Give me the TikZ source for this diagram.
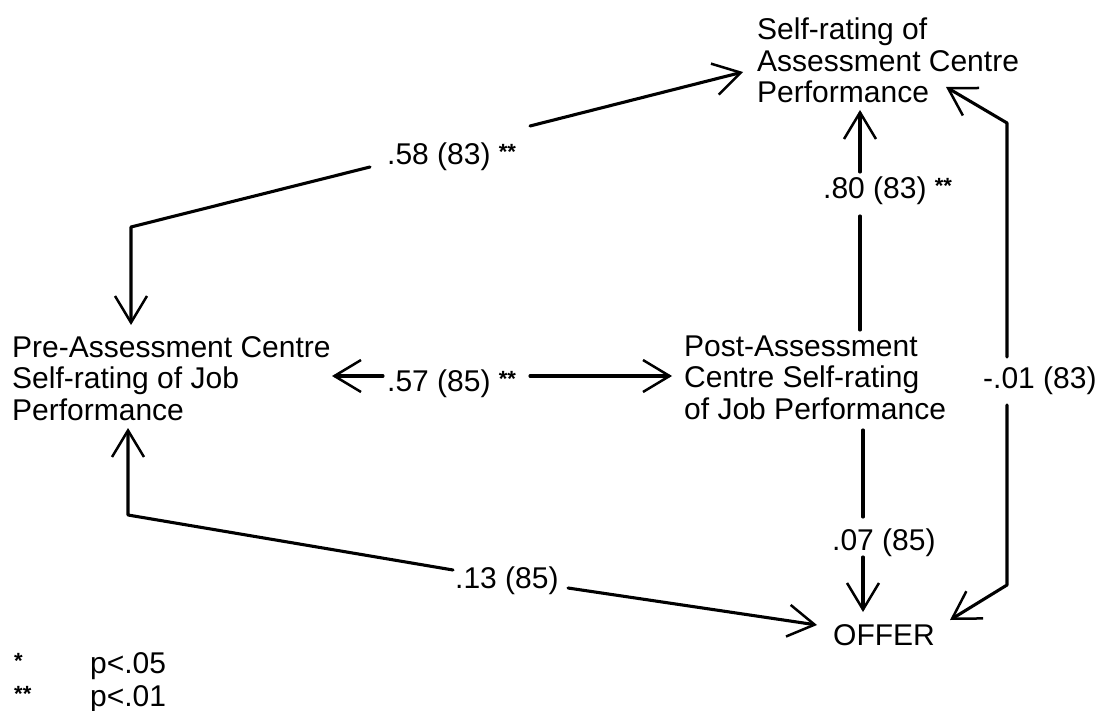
\documentclass[tikz,border=0pt]{standalone}
\usepackage{fontspec}
\setmainfont{Liberation Sans}
\usetikzlibrary{arrows.meta}
% stacked, left-aligned lines whose base is the first line's baseline
\newcommand\stk[1]{\begin{tabular}[t]{@{}l@{}}#1\end{tabular}}
% small raised significance stars
\newcommand\stars[1]{\raisebox{5pt}{\fontsize{22}{22}\selectfont\bfseries #1}}

\begin{document}
\begin{tikzpicture}[x=1pt,y=-1pt,
  every node/.style={inner sep=0pt, anchor=base west,
                     font=\fontsize{30}{31.5}\selectfont},
  link/.style={line width=3.1pt, line join=round, line cap=round},
  arr/.style={link, -{Straight Barb[angle=62:31pt, line width=2.5pt]}},
]
\useasboundingbox (0,0) rectangle (1097,711);

% variables
\node (top)   at (757,40)  {\stk{Self-rating of\\Assessment Centre\\Performance}};
\node (pre)   at (12,357)  {\stk{Pre-Assessment Centre\\Self-rating of Job\\Performance}};
\node (post)  at (684,356) {\stk{Post-Assessment\\Centre Self-rating\\of Job Performance}};
\node (offer) at (833,645) {OFFER};

% correlation labels
\node (l58) at (387,165) {.58 (83) \stars{**}};
\node (l80) at (823,199) {.80 (83) \stars{**}};
\node (l57) at (387,391) {.57 (85) \stars{**}};
\node (l01) at (983,388) {-.01 (83)};
\node (l07) at (832,550) {.07 (85)};
\node (l13) at (455,588) {.13 (85)};

% legend
\node (k1)  at (14,673) {\stars{*}};
\node (p1)  at (90,673) {p<.05};
\node (k2)  at (14,706) {\stars{**}};
\node (p2)  at (90,706) {p<.01};

% bend points and line ends
\coordinate (a58l) at (370,167);
\coordinate (a58b) at (131,227);
\coordinate (a58t) at (131,325);
\coordinate (a58r) at (530,126);
\coordinate (a58h) at (743,72);

\coordinate (a80h) at (860,110);
\coordinate (a80u) at (860,172);
\coordinate (a80d) at (860,216);
\coordinate (a80p) at (860,330);

\coordinate (a57l) at (383,376);
\coordinate (a57lh) at (332,376);
\coordinate (a57r) at (530,376);
\coordinate (a57rh) at (672,376);

\coordinate (a01u) at (1007,357);
\coordinate (a01c) at (1007,123);
\coordinate (a01h) at (946,87);
\coordinate (a01d) at (1007,405);
\coordinate (a01e) at (1007,585);
\coordinate (a01g) at (950,620);

\coordinate (a07p) at (863,430);
\coordinate (a07u) at (863,517);
\coordinate (a07d) at (863,557);
\coordinate (a07h) at (863,612);

\coordinate (a13l) at (453,570);
\coordinate (a13b) at (128,515);
\coordinate (a13h) at (128,428);
\coordinate (a13r) at (568,588);
\coordinate (a13g) at (817,625);

% connectors
\draw[arr] (a58l) -- (a58b) -- (a58t);
\draw[arr] (a58r) -- (a58h);

\draw[arr] (a80u) -- (a80h);
\draw[link] (a80p) -- (a80d);

\draw[arr] (a57l) -- (a57lh);
\draw[arr] (a57r) -- (a57rh);

\draw[arr] (a01u) -- (a01c) -- (a01h);
\draw[arr] (a01d) -- (a01e) -- (a01g);

\draw[link] (a07p) -- (a07u);
\draw[arr] (a07d) -- (a07h);

\draw[arr] (a13l) -- (a13b) -- (a13h);
\draw[arr] (a13r) -- (a13g);
\end{tikzpicture}
\end{document}
